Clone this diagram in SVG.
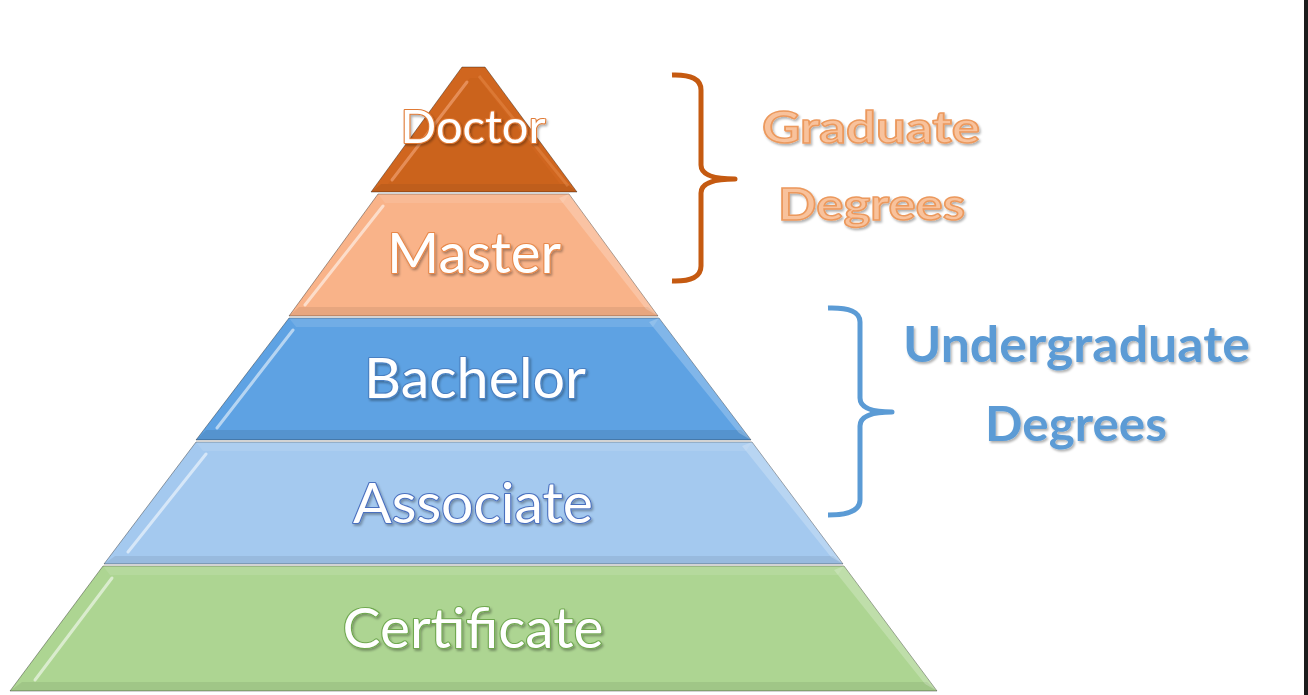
<svg xmlns="http://www.w3.org/2000/svg" width="1308" height="695" viewBox="0 0 1308 695">
<defs>
<style>
.lbl{font-family:Lato,"Open Sans","Liberation Sans",sans-serif;text-anchor:middle;fill:#ffffff;paint-order:stroke;stroke-width:2.2;stroke-linejoin:round;filter:url(#sh)}
.cat{font-family:Lato,"Open Sans","Liberation Sans",sans-serif;font-weight:bold;text-anchor:middle;filter:url(#sh)}
.edge{stroke:#000;stroke-opacity:.35;stroke-width:1}
.hl{fill:none;stroke:#ffffff;stroke-width:3;stroke-linecap:round;stroke-opacity:.55}
.rs{fill:#ffffff;fill-opacity:.22}
.bb{fill:#000;fill-opacity:.07}
.tb{fill:#ffffff;fill-opacity:.10}
.br{fill:none;stroke-width:5;stroke-linecap:butt;stroke-linejoin:round}
</style>
<filter id="sh" x="-10%" y="-20%" width="130%" height="160%">
<feDropShadow dx="1.5" dy="2" stdDeviation="1.2" flood-color="#000" flood-opacity=".3"/>
</filter>
</defs>
<rect width="1308" height="695" fill="#ffffff"/>
<rect x="1304" y="0" width="4" height="695" fill="#1c1c1c"/>

<g id="certificate">
<polygon class="edge" points="103,566 844,566 937,691 10,691" fill="#add592"/>
<polygon class="tb" points="103,566 844,566 838,575 110,575"/>
<polygon class="bb" points="22,682 927,682 937,691 10,691"/>
<polygon class="rs" points="834,570 844,566 937,691 925,684"/>
<line class="hl" x1="112" y1="578" x2="35" y2="680"/>
<text class="lbl" x="473" y="648" font-size="56" textLength="261" lengthAdjust="spacingAndGlyphs" stroke="#6fa84f">Certificate</text>
</g>

<g id="associate">
<polygon class="edge" points="196,442 752,442 843,564 104,564" fill="#a4c9ef"/>
<polygon class="tb" points="196,442 752,442 746,451 203,451"/>
<polygon class="bb" points="115,556 833,556 843,564 104,564"/>
<polygon class="rs" points="742,446 752,442 843,564 831,557"/>
<line class="hl" x1="206" y1="454" x2="128" y2="552"/>
<text class="lbl" x="473" y="523" font-size="56" textLength="240" lengthAdjust="spacingAndGlyphs" stroke="#4a70bf">Associate</text>
</g>

<g id="bachelor">
<polygon class="edge" points="289,318 659,318 751,440 196,440" fill="#5ea2e3"/>
<polygon points="289,318 659,318 653,327 296,327" fill="#ffffff" fill-opacity=".12"/>
<polygon points="206,430 741,430 751,440 196,440" fill="#000" fill-opacity=".09"/>
<polygon class="rs" points="649,322 659,318 751,440 739,433"/>
<line class="hl" x1="293" y1="330" x2="217" y2="428"/>
<text class="lbl" x="475" y="398" font-size="56" textLength="222" lengthAdjust="spacingAndGlyphs" stroke="#4a80c2">Bachelor</text>
</g>

<g id="master">
<polygon class="edge" points="378,194 569,194 658,316 289,316" fill="#f9b389"/>
<polygon class="tb" points="378,194 569,194 563,203 385,203"/>
<polygon class="bb" points="299,307 648,307 658,316 289,316"/>
<polygon class="rs" points="559,198 569,194 658,316 646,309"/>
<line class="hl" x1="383" y1="206" x2="305" y2="305"/>
<text class="lbl" x="474" y="273" font-size="56" textLength="174" lengthAdjust="spacingAndGlyphs" stroke="#e8884a">Master</text>
</g>

<g id="doctor">
<polygon class="edge" points="462,67 485,67 577,192 371,192" fill="#d0661f"/>
<polygon points="470,78 478,78 560,184 388,184" fill="#c8601a" fill-opacity=".6"/>
<polygon points="381,184 567,184 577,192 371,192" fill="#000" fill-opacity=".08"/>
<line x1="467" y1="82" x2="392" y2="180" stroke="#f0a070" stroke-width="3" stroke-linecap="round" stroke-opacity=".7"/>
<line x1="479" y1="76" x2="568" y2="186" stroke="#e58a4a" stroke-width="3" stroke-opacity=".5"/>
<text class="lbl" x="473" y="143" font-size="46" textLength="145" lengthAdjust="spacingAndGlyphs" stroke="#e07a35">Doctor</text>
</g>

<g id="connectors">
<path class="br" stroke="#c55a11" d="M672,75 Q701,74 701,90 L701,165 Q701,179 735,179 Q701,179 701,193 L701,266 Q701,282 672,281"/>
<path class="br" stroke="#5b9bd5" d="M828,308 Q860,307 860,322 L860,398 Q860,412 892,412 Q860,412 860,426 L860,500 Q860,515 828,515"/>
</g>

<g id="graduate">
<text class="cat" x="871" y="143" font-size="43" textLength="218" lengthAdjust="spacingAndGlyphs" fill="#f8c29c" stroke="#ec995d" stroke-width="1.5">Graduate</text>
<text class="cat" x="871.5" y="220" font-size="43" textLength="187" lengthAdjust="spacingAndGlyphs" fill="#f8c29c" stroke="#ec995d" stroke-width="1.5">Degrees</text>
</g>

<g id="undergraduate">
<text class="cat" x="1076.5" y="362" font-size="50" textLength="347" lengthAdjust="spacingAndGlyphs" fill="#5b9bd5">Undergraduate</text>
<text class="cat" x="1076" y="441" font-size="48" textLength="182" lengthAdjust="spacingAndGlyphs" fill="#5b9bd5">Degrees</text>
</g>
</svg>
